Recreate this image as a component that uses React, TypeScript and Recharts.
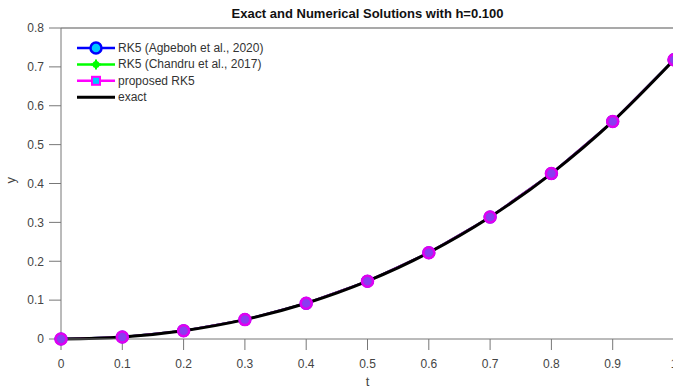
import React from "react";
import {
  LineChart,
  Line,
  XAxis,
  YAxis,
  ReferenceLine,
} from "recharts";

// Time grid and solution values y(t) on [0, 1] with step h = 0.1
const tValues = [0, 0.1, 0.2, 0.3, 0.4, 0.5, 0.6, 0.7, 0.8, 0.9, 1.0];
const exactY = [0, 0.00517, 0.0214, 0.04986, 0.09182, 0.14872, 0.22212, 0.31375, 0.42554, 0.5596, 0.71828];
const agbebohY = [0, 0.00517, 0.0214, 0.04986, 0.09182, 0.14872, 0.22212, 0.31375, 0.42554, 0.5596, 0.71828];
const chandruY = [0, 0.00517, 0.0214, 0.04986, 0.09182, 0.14872, 0.22212, 0.31375, 0.42554, 0.5596, 0.71828];
const proposedY = [0, 0.00517, 0.0214, 0.04986, 0.09182, 0.14872, 0.22212, 0.31375, 0.42554, 0.5596, 0.71828];

const xTicks = [0, 0.1, 0.2, 0.3, 0.4, 0.5, 0.6, 0.7, 0.8, 0.9, 1];
const yTicks = [0, 0.1, 0.2, 0.3, 0.4, 0.5, 0.6, 0.7, 0.8];

const seriesNames = [
  "RK5 (Agbeboh et al., 2020)",
  "RK5 (Chandru et al., 2017)",
  "proposed RK5",
  "exact",
];

const data = tValues.map((t, i) => ({
  t,
  exact: exactY[i],
  agbeboh: agbebohY[i],
  chandru: chandruY[i],
  proposed: proposedY[i],
}));

const FONT = "'Liberation Sans', Arial, sans-serif";

const LegendBox = () => {
  const rowH = 16.4;
  return (
    <svg width={220} height={70} style={{ display: "block" }}>
      {seriesNames.map((name, i) => {
        const y = 8 + i * rowH;
        let marker: React.ReactNode = null;
        if (i === 0)
          marker = <circle cx={26} cy={y} r={5.5} fill="#00c8ff" stroke="#0000ff" strokeWidth={2.5} />;
        if (i === 1)
          marker = (
            <g>
              <circle cx={26} cy={y} r={3.5} fill="#00ff00" />
              <path d={`M${26 - 5},${y}L${26 + 5},${y}M26,${y - 5}L26,${y + 5}`} stroke="#00ff00" strokeWidth={2} />
            </g>
          );
        if (i === 2)
          marker = <rect x={22} y={y - 4} width={8} height={8} fill="#00c8ff" stroke="#ff00ff" strokeWidth={2} />;
        const color = ["#0000ff", "#00ff00", "#ff00ff", "#000000"][i];
        return (
          <g key={name}>
            <line x1={7} x2={45} y1={y} y2={y} stroke={color} strokeWidth={i === 3 ? 3 : 2.5} />
            {marker}
            <text x={48} y={y + 4} fontSize={12} fill="#333" fontFamily={FONT}>
              {name}
            </text>
          </g>
        );
      })}
    </svg>
  );
};

const purpleDot = (props: any) => {
  const { cx, cy, index } = props;
  return (
    <circle key={`p-${index}`} cx={cx} cy={cy} r={5.5} fill="#8a3cf0" stroke="#e000f0" strokeWidth={2.5} />
  );
};

export default function App() {
  return (
    <div
      style={{
        position: "absolute",
        left: 0,
        top: 0,
        width: 673,
        height: 389,
        overflow: "hidden",
        background: "#fff",
      }}
    >
      <div
        style={{
          position: "absolute",
          top: 6,
          left: 61,
          width: 613,
          textAlign: "center",
          fontFamily: FONT,
          fontWeight: "bold",
          fontSize: 13,
          color: "#111",
        }}
      >
        Exact and Numerical Solutions with h=0.100
      </div>
      <LineChart
        width={682}
        height={389}
        data={data}
        margin={{ top: 28, right: 8, bottom: 4, left: 0 }}
      >
        <XAxis
          dataKey="t"
          type="number"
          domain={[0, 1]}
          ticks={xTicks}
          tickFormatter={(v: number) => String(v)}
          height={46}
          tickSize={11}
          tickMargin={9}
          stroke="#777"
          tick={{ fill: "#444", fontSize: 12, fontFamily: FONT }}
          label={{ value: "t", position: "insideBottom", offset: -1, fill: "#444", fontSize: 13, fontFamily: FONT }}
        />
        <YAxis
          type="number"
          domain={[0, 0.8]}
          ticks={yTicks}
          tickFormatter={(v: number) => String(v)}
          width={61}
          tickSize={12}
          tickMargin={5}
          stroke="#777"
          tick={{ fill: "#444", fontSize: 12, fontFamily: FONT }}
          label={{ value: "y", angle: -90, position: "insideLeft", offset: 10, fill: "#444", fontSize: 13, fontFamily: FONT }}
        />
        <ReferenceLine y={0.8} stroke="#555" strokeWidth={1.2} />
        <Line
          dataKey="agbeboh"
          name={seriesNames[0]}
          stroke="#0000ff"
          strokeWidth={2}
          dot={{ r: 5.5, fill: "#00c8ff", stroke: "#0000ff", strokeWidth: 2 }}
          isAnimationActive={false}
        />
        <Line
          dataKey="chandru"
          name={seriesNames[1]}
          stroke="#00ff00"
          strokeWidth={2}
          dot={{ r: 4, fill: "#00ff00", stroke: "#00ff00" }}
          isAnimationActive={false}
        />
        <Line
          dataKey="proposed"
          name={seriesNames[2]}
          stroke="#ff00ff"
          strokeWidth={2}
          dot={purpleDot}
          isAnimationActive={false}
        />
        <Line
          dataKey="exact"
          name={seriesNames[3]}
          type="monotone"
          stroke="#000"
          strokeWidth={3}
          dot={false}
          isAnimationActive={false}
        />
      </LineChart>
      <div style={{ position: "absolute", left: 70, top: 40 }}>
        <LegendBox />
      </div>
    </div>
  );
}
